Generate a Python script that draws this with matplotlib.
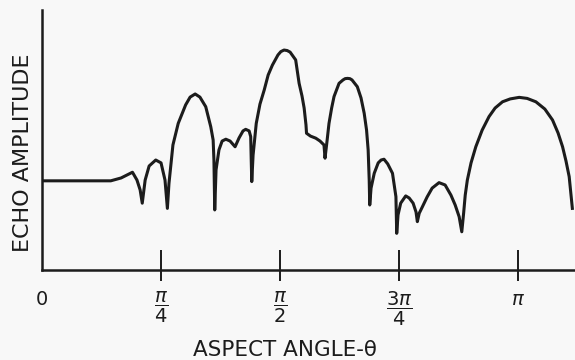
import matplotlib
matplotlib.use('Agg')
import matplotlib.pyplot as plt

# aspect angle (degrees) and echo amplitude (relative units, axis top = 100)
angle_deg = [0.0, 26.0, 29.9, 34.2, 35.9, 37.1, 37.9,
             39.0, 40.5, 43.0, 45.0, 46.5, 47.4,
             48.0, 49.5, 51.5, 54.3, 56.0, 57.9, 59.7, 61.9, 63.8, 64.7, 65.0, 65.3,
             65.8, 66.9, 68.1, 69.5, 71.1, 73.0, 74.5, 76.0, 77.0, 78.3, 78.9, 79.1, 79.3,
             79.8, 81.0, 82.4, 84.0, 85.5, 87.1, 89.2, 90.3, 91.5, 92.7, 93.8, 95.9, 97.2, 98.3, 99.1, 99.8, 100.0,
             101.5, 103.5, 105.1, 106.6, 107.0,
             107.8, 108.5, 109.5, 110.4, 112.3, 113.8, 114.6, 115.5, 116.4, 117.2, 119.2, 120.6, 121.8, 122.7,
             123.3, 123.7, 123.9,
             124.4, 125.6, 127.1, 128.2, 129.3, 130.7, 132.5, 133.8, 134.1,
             134.6, 135.6, 137.5, 138.8, 140.3, 141.4, 141.9,
             142.6, 143.8, 145.6, 147.5, 150.1, 152.4, 154.6, 156.2, 157.7, 158.7,
             159.4, 160.0, 160.8, 162.2, 164.0, 166.4, 169.0, 171.3, 174.1, 177.0,
             180.4, 183.4, 186.7, 190.1, 193.0, 195.1, 196.8, 198.1, 199.3, 200.5]
echo_amp = [34.3, 34.3, 35.4, 37.6, 34.6, 30.8, 25.7,
            34.6, 40.0, 42.3, 41.2, 34.6, 23.7,
            33.3, 48.1, 56.4, 63.5, 66.5, 67.7, 66.5, 62.8, 55.1, 50.0, 42.3, 23.1,
            38.5, 46.2, 49.6, 50.3, 49.6, 47.4, 50.8, 53.5, 54.1, 53.5, 51.3, 42.3, 34.0,
            44.2, 56.4, 63.8, 69.2, 75.0, 78.8, 82.7, 84.0, 84.6, 84.4, 83.8, 80.8, 71.8, 66.9, 62.3, 55.8, 52.6,
            51.5, 50.7, 49.6, 48.1, 43.0,
            50.0, 56.4, 62.3, 66.7, 71.8, 73.1, 73.6, 73.7, 73.6, 73.1, 70.5, 66.2, 60.3, 53.8,
            46.2, 34.6, 25.0,
            31.5, 37.2, 41.2, 42.3, 42.6, 40.8, 37.2, 28.2, 14.1,
            21.2, 25.7, 28.5, 27.7, 25.7, 22.3, 18.6,
            21.8, 24.3, 28.1, 31.5, 33.6, 32.7, 28.8, 25.0, 20.5, 14.7,
            21.9, 28.8, 34.6, 41.2, 47.4, 53.8, 59.0, 62.3, 64.7, 65.8,
            66.4, 66.0, 64.7, 61.9, 57.7, 52.7, 47.4, 41.9, 35.9, 23.7]

tick_deg = [0, 45, 90, 135, 180]
tick_labels = ['0', r'$\dfrac{\pi}{4}$', r'$\dfrac{\pi}{2}$', r'$\dfrac{3\pi}{4}$', r'$\pi$']

ink = '#1c1c1c'
bg = '#f8f8f8'

fig = plt.figure(figsize=(5.75, 3.6), dpi=100, facecolor=bg)
ax = fig.add_axes([42 / 575, 90 / 360, 533 / 575, 260 / 360])
ax.set_facecolor(bg)

ax.plot(angle_deg, echo_amp, color=ink, lw=2.2, solid_joinstyle='round')

ax.set_xlim(0, 201.5)
ax.set_ylim(0, 100)

for s in ['top', 'right']:
    ax.spines[s].set_visible(False)
for s in ['left', 'bottom']:
    ax.spines[s].set_color(ink)
    ax.spines[s].set_linewidth(1.8)

ax.set_xticks(tick_deg)
ax.set_xticklabels(tick_labels)
ax.tick_params(axis='x', length=0, labelsize=14, labelcolor=ink, pad=14.5)
ax.set_yticks([])

# tick marks cross the axis: long part above, short stub below (none at 0, that is the y axis)
ax.vlines(tick_deg[1:], -0.042, 0.077, transform=ax.get_xaxis_transform(),
          color=ink, lw=1.4, clip_on=False)

ax.set_xlabel('ASPECT ANGLE-θ', fontsize=15.5, color=ink)
ax.xaxis.set_label_coords(0.456, -0.268)
ax.set_ylabel('ECHO AMPLITUDE', fontsize=16, color=ink)
ax.yaxis.set_label_coords(-0.017, 0.45)

fig.savefig('out.png', dpi=100, facecolor=bg)
